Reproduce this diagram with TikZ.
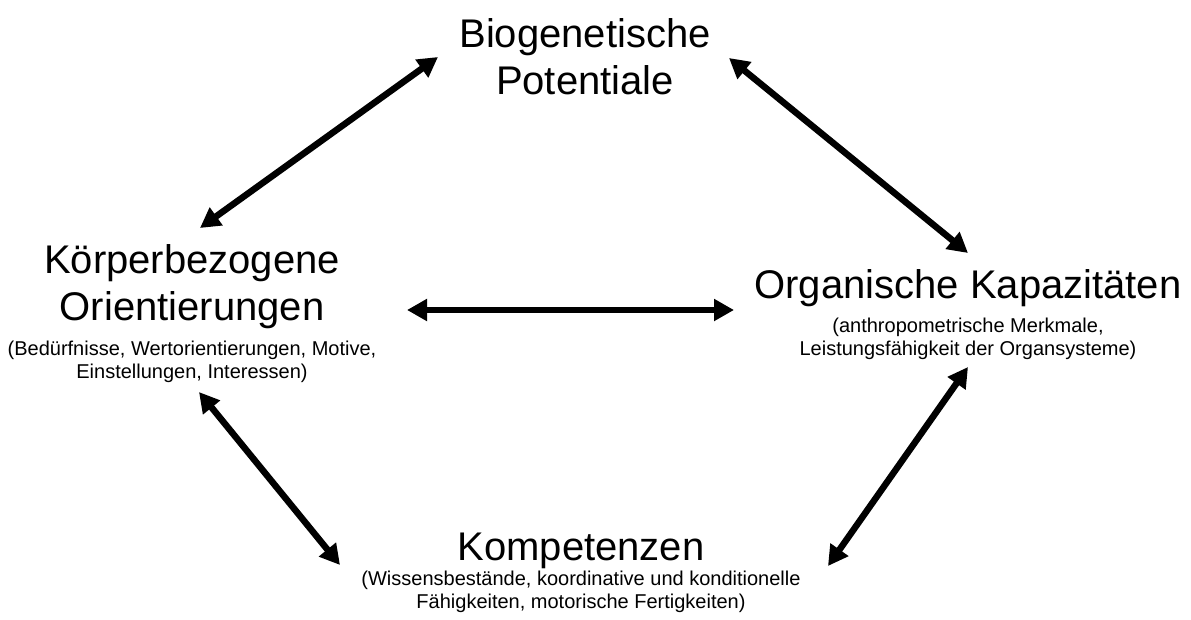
\documentclass[tikz,border=0pt]{standalone}
\usepackage{fontspec}
\setmainfont{Liberation Sans}
\usetikzlibrary{arrows.meta}
\begin{document}
\begin{tikzpicture}[x=1pt,y=-1pt,
  title/.style={anchor=base,align=center,inner sep=0pt,
    font=\fontsize{40}{47}\selectfont},
  detail/.style={anchor=base,align=center,inner sep=0pt,
    font=\fontsize{20}{23}\selectfont},
  link/.style={line width=6.5pt,
    {Triangle[length=20pt,width=21pt]}-{Triangle[length=20pt,width=21pt]}}]
\useasboundingbox (0,0) rectangle (1191,619);

% factor labels (base anchor sits on the last line's baseline)
\node[title] (bio) at (585,94) {Biogenetische\\Potentiale};
\node[title] (koe) at (192,320) {Körperbezogene\\Orientierungen};
\node[detail] (koe-d) at (192,378) {(Bedürfnisse, Wertorientierungen, Motive,\\Einstellungen, Interessen)};
\node[title] (org) at (968,298) {Organische Kapazitäten};
\node[detail] (org-d) at (968,355) {(anthropometrische Merkmale,\\Leistungsfähigkeit der Organsysteme)};
\node[title] (kom) at (581,560) {Kompetenzen};
\node[detail] (kom-d) at (581,608) {(Wissensbestände, koordinative und konditionelle\\Fähigkeiten, motorische Fertigkeiten)};

% arrow ends
\coordinate (bio-w) at (438,57);
\coordinate (bio-e) at (729,58);
\coordinate (koe-n) at (200,228);
\coordinate (koe-e) at (407,310);
\coordinate (koe-s) at (199,392);
\coordinate (org-n) at (968,253);
\coordinate (org-w) at (734,310);
\coordinate (org-s) at (968,367);
\coordinate (kom-w) at (340,565);
\coordinate (kom-e) at (828,566);

% mutual influences
\draw[link] (koe-n) -- (bio-w);
\draw[link] (bio-e) -- (org-n);
\draw[link] (koe-e) -- (org-w);
\draw[link] (koe-s) -- (kom-w);
\draw[link] (org-s) -- (kom-e);
\end{tikzpicture}
\end{document}
